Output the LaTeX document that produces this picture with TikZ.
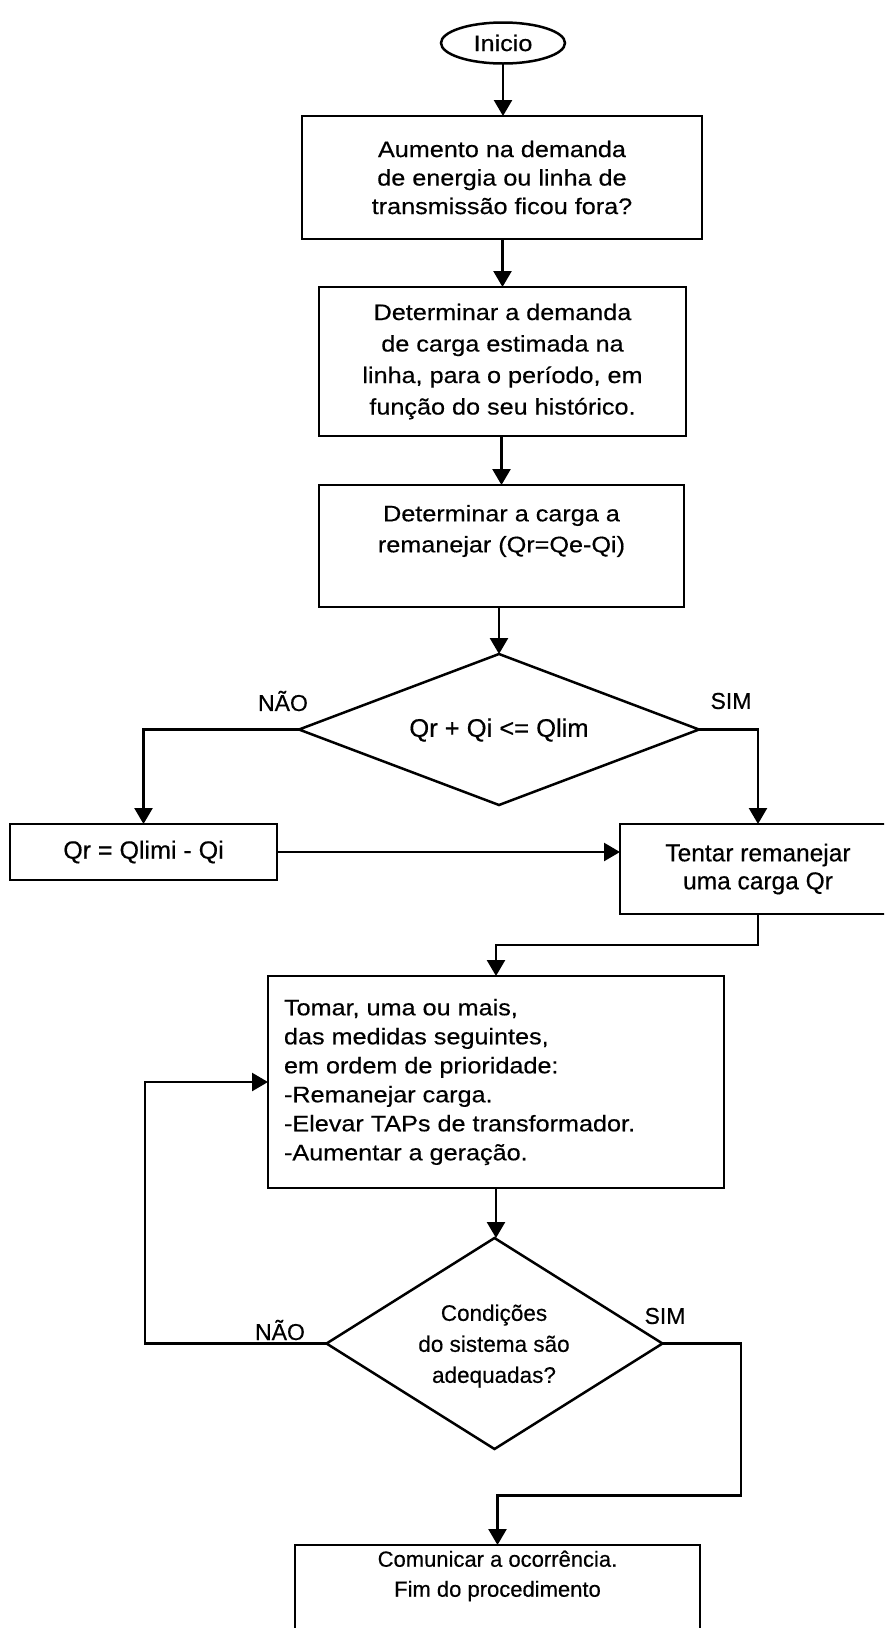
\documentclass[tikz,border=0pt]{standalone}
\usepackage{fontspec}
\setmainfont[FakeBold=0.4]{Liberation Sans}
\newfontfamily\widefont[FakeStretch=1.12,FakeBold=0.4]{Liberation Sans}
\usetikzlibrary{arrows.meta,shapes.geometric,calc}
\begin{document}
\begin{tikzpicture}[x=1pt,y=-1pt,
  every node/.style={inner sep=0pt,outer sep=0pt},
  lw/.style={line width=2.5pt},
  fa/.style={font=\widefont\fontsize{22.5}{#1}\selectfont},
  fb/.style={font=\fontsize{#1}{30}\selectfont},
  box/.style={draw,lw,rectangle},
  dia/.style={draw,lw,diamond},
  oval/.style={draw,lw,ellipse},
  arr/.style={lw,-{Triangle[length=16pt,width=18pt]}},
  lab/.style={font=\fontsize{23}{26}\selectfont}]
\useasboundingbox (0,0) rectangle (884,1628);
\clip (0,0) rectangle (884,1628);

% nodes
\node[oval,minimum width=124,minimum height=41,fa=26] (ini) at (503,43) {Inicio};
\node[box,minimum width=400,minimum height=123,align=center,fa=28.5] (b1) at (502,177.5)
  {Aumento na demanda\\de energia ou linha de\\transmissão ficou fora?};
\node[box,minimum width=367,minimum height=149,align=center,fa=31.5] (b2) at (502.5,361.5)
  {Determinar a demanda\\de carga estimada na\\linha, para o período, em\\função do seu histórico.};
\node[box,minimum width=365,minimum height=122] (b3) at (501.5,546) {};
\node[align=center,fa=31] (b3t) at (501.5,531) {Determinar a carga a\\remanejar (Qr=Qe-Qi)};
\node[dia,minimum width=400,minimum height=151] (d1) at (499,729.5) {};
\node[fb=25.5] (d1t) at (499,730) {Qr + Qi <= Qlim};
\node[box,minimum width=267,minimum height=56,fb=25] (q) at (143.5,852) {Qr = Qlimi - Qi};
\node[box,minimum width=276,minimum height=90,align=center,font=\fontsize{24.5}{28}\selectfont] (t) at (758,869)
  {Tentar remanejar\\uma carga Qr};
\node[box,minimum width=456,minimum height=212] (tm) at (496,1082) {};
\node[anchor=west,align=left,fa=29] (tmt) at (284,1082)
  {Tomar, uma ou mais,\\das medidas seguintes,\\em ordem de prioridade:\\-Remanejar carga.\\-Elevar TAPs de transformador.\\-Aumentar a geração.};
\node[dia,minimum width=336,minimum height=211] (d2) at (494.5,1343.5) {};
\node[align=center,font=\fontsize{22.5}{31}\selectfont] (d2t) at (494,1346)
  {Condições\\do sistema são\\adequadas?};
\node[box,minimum width=405,minimum height=210] (fin) at (497.5,1650) {};
\node[align=center,font=\fontsize{22}{30}\selectfont] (fint) at (497.5,1576)
  {Comunicar a ocorrência.\\Fim do procedimento};

% labels
\node[lab] (n1) at (283,701) {NÃO};
\node[lab] (s1) at (731,701) {SIM};
\node[lab] (n2) at (280,1330) {NÃO};
\node[lab] (s2) at (665,1316) {SIM};

\coordinate (lp) at (145,1343.5);
\coordinate (rp) at (741,1495.5);

% connectors
\draw[arr] (ini.south) -- (ini.south |- b1.north);
\draw[arr] (b1.south -| b2.north) -- (b2.north);
\draw[arr] (b2.south -| b3.north) -- (b3.north);
\draw[arr] (b3.south -| d1.north) -- (d1.north);
\draw[arr] (d1.west) -| (q.north);
\draw[arr] (d1.east) -| (t.north);
\draw[arr] (q.east) -- (q.east -| t.west);
\draw[arr] (t.south) |- ($(t.south)!.5!(tm.north)$) -| (tm.north);
\draw[arr] (tm.south) -- (tm.south |- d2.north);
\draw[arr] (d2.west) -- (lp) |- (tm.west);
\draw[arr] (d2.east) -| (rp) -| (fin.north);
\end{tikzpicture}
\end{document}
